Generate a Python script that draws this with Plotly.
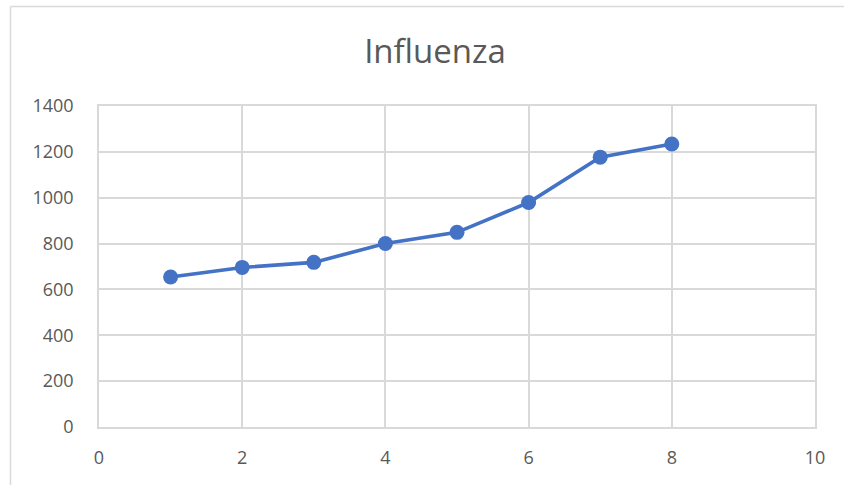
import plotly.graph_objects as go

x_values = [1, 2, 3, 4, 5, 6, 7, 8]
y_values = [654, 696, 718, 800, 849, 979, 1177, 1234]
chart_title = "Influenza"
x_ticks = [0, 2, 4, 6, 8, 10]
y_ticks = [0, 200, 400, 600, 800, 1000, 1200, 1400]

W, H = 844, 485
L, R, T, B = 99, 29, 106, 58
pw, ph = W - L - R, H - T - B

def px_to_paper_x(px):
    return (px - L) / pw

def px_to_paper_y(py):
    return (H - B - py) / ph

fig = go.Figure()
fig.add_trace(go.Scatter(
    x=x_values, y=y_values, mode="lines+markers",
    line=dict(color="#4472C4", width=3.6),
    marker=dict(color="#4472C4", size=15),
    showlegend=False, hoverinfo="x+y",
))

font_color = "#595959"
fig.update_layout(
    width=W, height=H,
    margin=dict(l=L, r=R, t=T, b=B),
    paper_bgcolor="white", plot_bgcolor="white",
    title=dict(text=chart_title, x=435 / W, xanchor="center",
               y=1 - 51 / H, yanchor="middle",
               font=dict(family="Open Sans, Liberation Sans, sans-serif", size=33, color=font_color)),
    font=dict(family="Open Sans, Liberation Sans, sans-serif", size=18, color=font_color),
    xaxis=dict(range=[0, 10], tickvals=x_ticks, showgrid=True, gridcolor="#d9d9d9", gridwidth=1.5,
               zeroline=False, showline=True, linecolor="#d9d9d9", linewidth=1.5, mirror=True,
               ticks="", ticklen=0, tickfont=dict(size=18, color=font_color)),
    yaxis=dict(range=[0, 1400], tickvals=y_ticks, showgrid=True, gridcolor="#d9d9d9", gridwidth=1.5,
               zeroline=False, showline=True, linecolor="#d9d9d9", linewidth=1.5, mirror=True,
               ticks="", ticklen=0, tickfont=dict(size=18, color=font_color)),
    shapes=[
        dict(type="line", xref="paper", yref="paper",
             x0=px_to_paper_x(10.5), x1=px_to_paper_x(W + 2),
             y0=px_to_paper_y(6.5), y1=px_to_paper_y(6.5),
             line=dict(color="#d9d9d9", width=1.5)),
        dict(type="line", xref="paper", yref="paper",
             x0=px_to_paper_x(10.5), x1=px_to_paper_x(10.5),
             y0=px_to_paper_y(6.5), y1=px_to_paper_y(H + 2),
             line=dict(color="#d9d9d9", width=1.5)),
    ],
)
fig.update_xaxes(ticklabelstandoff=14)
fig.update_yaxes(ticklabelstandoff=20)

fig.write_html("out.html", config={"displayModeBar": False},
               post_script="document.body.style.margin='0';document.body.style.overflow='hidden';")
